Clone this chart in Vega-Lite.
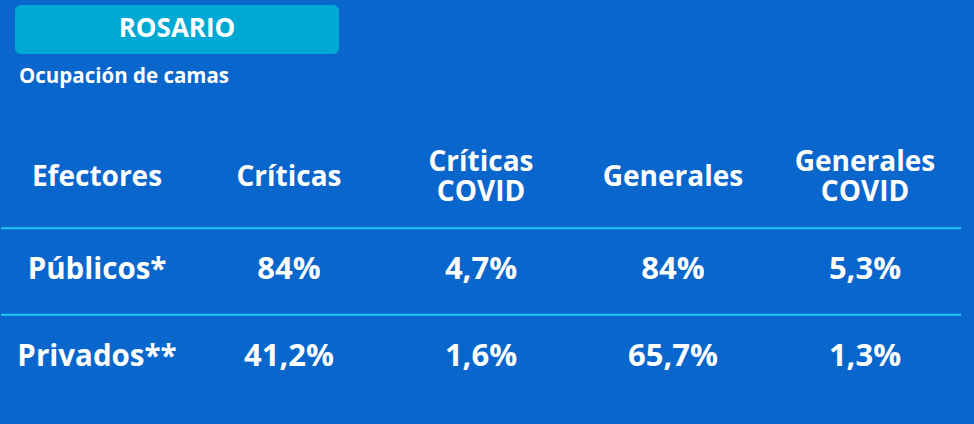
{
  "$schema": "https://vega.github.io/schema/vega-lite/v6.json",
  "width": 974,
  "height": 424,
  "autosize": {"type": "fit", "contains": "padding"},
  "padding": 0,
  "background": "#0866cc",
  "config": {"view": {"stroke": null}},
  "datasets": {
    "title": [{"label": "ROSARIO"}],
    "subtitle": [{"label": "Ocupación de camas"}],
    "seps": [{"row": "Públicos"}, {"row": "Privados"}],
    "headers": [
      {"row": "hdr", "col": "Efectores", "label": "Efectores", "lines": 1},
      {"row": "hdr", "col": "Críticas", "label": "Críticas", "lines": 1},
      {"row": "hdr", "col": "Críticas COVID", "label": "Críticas\nCOVID", "lines": 2},
      {"row": "hdr", "col": "Generales", "label": "Generales", "lines": 1},
      {"row": "hdr", "col": "Generales COVID", "label": "Generales\nCOVID", "lines": 2}
    ],
    "cells": [
      {"row": "Públicos", "col": "Efectores", "label": "Públicos*"},
      {"row": "Públicos", "col": "Críticas", "label": "84%"},
      {"row": "Públicos", "col": "Críticas COVID", "label": "4,7%"},
      {"row": "Públicos", "col": "Generales", "label": "84%"},
      {"row": "Públicos", "col": "Generales COVID", "label": "5,3%"},
      {"row": "Privados", "col": "Efectores", "label": "Privados**"},
      {"row": "Privados", "col": "Críticas", "label": "41,2%"},
      {"row": "Privados", "col": "Críticas COVID", "label": "1,6%"},
      {"row": "Privados", "col": "Generales", "label": "65,7%"},
      {"row": "Privados", "col": "Generales COVID", "label": "1,3%"}
    ]
  },
  "layer": [
    {
      "data": {"name": "title"},
      "encoding": {
        "x": {"field": "label", "type": "nominal", "axis": null, "scale": {"type": "band", "domain": ["ROSARIO"], "range": [14, 338], "paddingInner": 0, "paddingOuter": 0}},
        "y": {"field": "label", "type": "nominal", "axis": null, "scale": {"type": "band", "domain": ["ROSARIO"], "range": [5, 54], "paddingInner": 0, "paddingOuter": 0}}
      },
      "layer": [
        {"mark": {"type": "rect", "fill": "#00a9d4", "cornerRadius": 6}},
        {"mark": {"type": "text", "color": "white", "font": "Open Sans", "fontWeight": "bold", "fontSize": 26, "baseline": "middle", "align": "center", "dy": -1}, "encoding": {"text": {"field": "label"}}}
      ]
    },
    {
      "data": {"name": "subtitle"},
      "mark": {"type": "text", "color": "white", "font": "Open Sans", "fontWeight": "bold", "fontSize": 20.5, "baseline": "middle", "align": "left"},
      "encoding": {
        "x": {"field": "label", "type": "nominal", "axis": null, "bandPosition": 0, "scale": {"type": "band", "domain": ["Ocupación de camas"], "range": [18, 240], "paddingInner": 0, "paddingOuter": 0}},
        "y": {"field": "label", "type": "nominal", "axis": null, "scale": {"type": "band", "domain": ["Ocupación de camas"], "range": [67, 87], "paddingInner": 0, "paddingOuter": 0}},
        "text": {"field": "label"}
      }
    },
    {
      "data": {"name": "seps"},
      "mark": {"type": "rule", "color": "#1fc8f2", "strokeWidth": 2, "yOffset": 1.5},
      "encoding": {
        "x": {"datum": "Efectores", "type": "nominal", "axis": null, "bandPosition": 0, "scale": {"type": "band", "domain": ["Efectores", "Críticas", "Críticas COVID", "Generales", "Generales COVID"], "range": [0, 960], "paddingInner": 0, "paddingOuter": 0}},
        "x2": {"datum": "Generales COVID", "bandPosition": 1},
        "y": {"field": "row", "type": "nominal", "axis": null, "bandPosition": 0, "scale": {"type": "band", "domain": ["hdr", "Públicos", "Privados"], "range": [140, 400], "paddingInner": 0, "paddingOuter": 0}}
      }
    },
    {
      "data": {"name": "headers"},
      "transform": [{"filter": "datum.lines == 1"}],
      "mark": {"type": "text", "color": "white", "font": "Open Sans", "fontWeight": "bold", "fontSize": 28, "baseline": "middle", "align": "center", "dy": -5},
      "encoding": {
        "x": {"field": "col", "type": "nominal", "axis": null, "scale": {"type": "band", "domain": ["Efectores", "Críticas", "Críticas COVID", "Generales", "Generales COVID"], "range": [0, 960], "paddingInner": 0, "paddingOuter": 0}},
        "y": {"field": "row", "type": "nominal", "axis": null, "scale": {"type": "band", "domain": ["hdr", "Públicos", "Privados"], "range": [140, 400], "paddingInner": 0, "paddingOuter": 0}},
        "text": {"field": "label"}
      }
    },
    {
      "data": {"name": "headers"},
      "transform": [{"filter": "datum.lines == 2"}],
      "mark": {"type": "text", "color": "white", "font": "Open Sans", "fontWeight": "bold", "fontSize": 28, "baseline": "middle", "align": "center", "lineBreak": "\n", "lineHeight": 30, "dy": -20},
      "encoding": {
        "x": {"field": "col", "type": "nominal", "axis": null, "scale": {"type": "band", "domain": ["Efectores", "Críticas", "Críticas COVID", "Generales", "Generales COVID"], "range": [0, 960], "paddingInner": 0, "paddingOuter": 0}},
        "y": {"field": "row", "type": "nominal", "axis": null, "scale": {"type": "band", "domain": ["hdr", "Públicos", "Privados"], "range": [140, 400], "paddingInner": 0, "paddingOuter": 0}},
        "text": {"field": "label"}
      }
    },
    {
      "data": {"name": "cells"},
      "transform": [{"filter": "datum.col != 'Efectores'"}],
      "mark": {"type": "text", "color": "white", "font": "Open Sans", "fontWeight": "bold", "fontSize": 31, "baseline": "middle", "align": "center"},
      "encoding": {
        "x": {"field": "col", "type": "nominal", "axis": null, "scale": {"type": "band", "domain": ["Efectores", "Críticas", "Críticas COVID", "Generales", "Generales COVID"], "range": [0, 960], "paddingInner": 0, "paddingOuter": 0}},
        "y": {"field": "row", "type": "nominal", "axis": null, "scale": {"type": "band", "domain": ["hdr", "Públicos", "Privados"], "range": [140, 400], "paddingInner": 0, "paddingOuter": 0}},
        "text": {"field": "label"}
      }
    },
    {
      "data": {"name": "cells"},
      "transform": [{"filter": "datum.col == 'Efectores'"}],
      "mark": {"type": "text", "color": "white", "font": "Open Sans", "fontWeight": "bold", "fontSize": 29.5, "baseline": "middle", "align": "center"},
      "encoding": {
        "x": {"field": "col", "type": "nominal", "axis": null, "scale": {"type": "band", "domain": ["Efectores", "Críticas", "Críticas COVID", "Generales", "Generales COVID"], "range": [0, 960], "paddingInner": 0, "paddingOuter": 0}},
        "y": {"field": "row", "type": "nominal", "axis": null, "scale": {"type": "band", "domain": ["hdr", "Públicos", "Privados"], "range": [140, 400], "paddingInner": 0, "paddingOuter": 0}},
        "text": {"field": "label"}
      }
    }
  ],
  "resolve": {"scale": {"x": "independent", "y": "independent"}}
}
